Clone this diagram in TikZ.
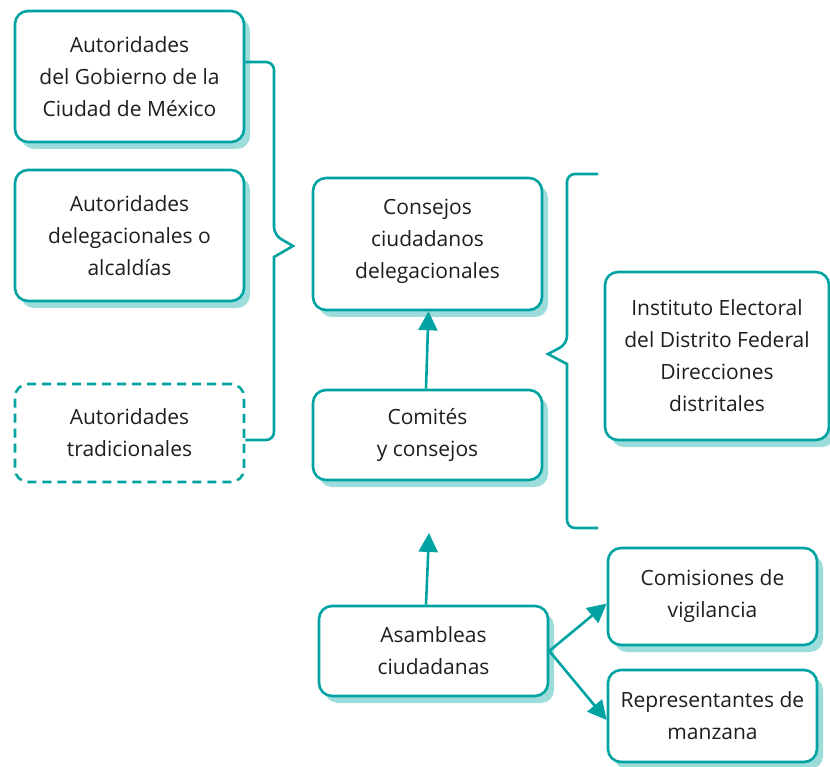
\documentclass[tikz,border=0pt]{standalone}
\usepackage{fontspec}
\setmainfont{Open Sans}
\usetikzlibrary{arrows.meta,shadows}
\definecolor{teal}{HTML}{00A3A1}
\definecolor{shcol}{HTML}{9CDCDA}
\definecolor{txt}{HTML}{1E1E1E}
\tikzset{
  basebox/.style={draw=teal, line width=2.6pt, rounded corners=13pt, fill=white,
    align=center, text=txt, inner sep=0pt,
    font=\fontsize{21}{32}\selectfont},
  box/.style={basebox, drop shadow={shadow xshift=6pt, shadow yshift=-7pt, fill=shcol, opacity=1}},
  dbox/.style={basebox, dash pattern=on 9pt off 6pt},
  conn/.style={draw=teal, line width=2.6pt, -{Triangle[width=19pt,length=19pt]}},
  brk/.style={draw=teal, line width=2.6pt},
}
\begin{document}
\begin{tikzpicture}[x=1pt,y=-1pt]
\useasboundingbox (0,0) rectangle (830,767);
% left column
\node[box, minimum width=229pt, minimum height=131pt] (b1) at (129.5,76.5)
  {Autoridades\\del Gobierno de la\\Ciudad de México};
\node[box, minimum width=229pt, minimum height=131pt] (b2) at (129.5,235.5)
  {Autoridades\\delegacionales o\\alcaldías};
\node[dbox, minimum width=229pt, minimum height=98pt] (b3) at (129.5,433)
  {Autoridades\\tradicionales};
% middle column
\node[box, minimum width=229pt, minimum height=132pt] (cons) at (427.5,244)
  {Consejos\\ciudadanos\\delegacionales\\[-22pt]\mbox{}};
\node[box, minimum width=229pt, minimum height=90pt] (com) at (427.5,435)
  {Comités\\y consejos};
\node[box, minimum width=229pt, minimum height=90pt] (asam) at (433.5,651)
  {Asambleas\\ciudadanas};
% right column
\node[box, minimum width=224pt, minimum height=168pt] (iedf) at (717,356)
  {Instituto Electoral\\del Distrito Federal\\Direcciones\\distritales};
\node[box, minimum width=209pt, minimum height=97pt] (comi) at (712.5,596.5)
  {Comisiones de\\vigilancia};
\node[box, minimum width=209pt, minimum height=92pt] (rep) at (712.5,716)
  {Representantes de\\manzana};
% connectors
\coordinate (up) at (429,533);
\draw[conn] ([xshift=-1.5pt]com.north) -- ([xshift=1pt]cons.south);
\draw[conn] ([xshift=-7.5pt]asam.north) -- (up);
\draw[conn] (asam.east) -- ([yshift=-7pt]comi.west);
\draw[conn] (asam.east) -- ([yshift=-4pt]rep.west);
% left bracket
\draw[brk] ([yshift=14.5pt]b1.east) [rounded corners=8pt] -- (274,62) -- (274,235)
  [sharp corners] -- (293,246) -- (274,257) [rounded corners=8pt] -- (274,440) -- ([yshift=-7pt]b3.east);
% right bracket
\draw[brk] (598,174) [rounded corners=8pt] -- (567,174) -- (567,344)
  [sharp corners] -- (548,354) -- (567,364) [rounded corners=8pt] -- (567,528) -- (598,528);
\end{tikzpicture}
\end{document}
